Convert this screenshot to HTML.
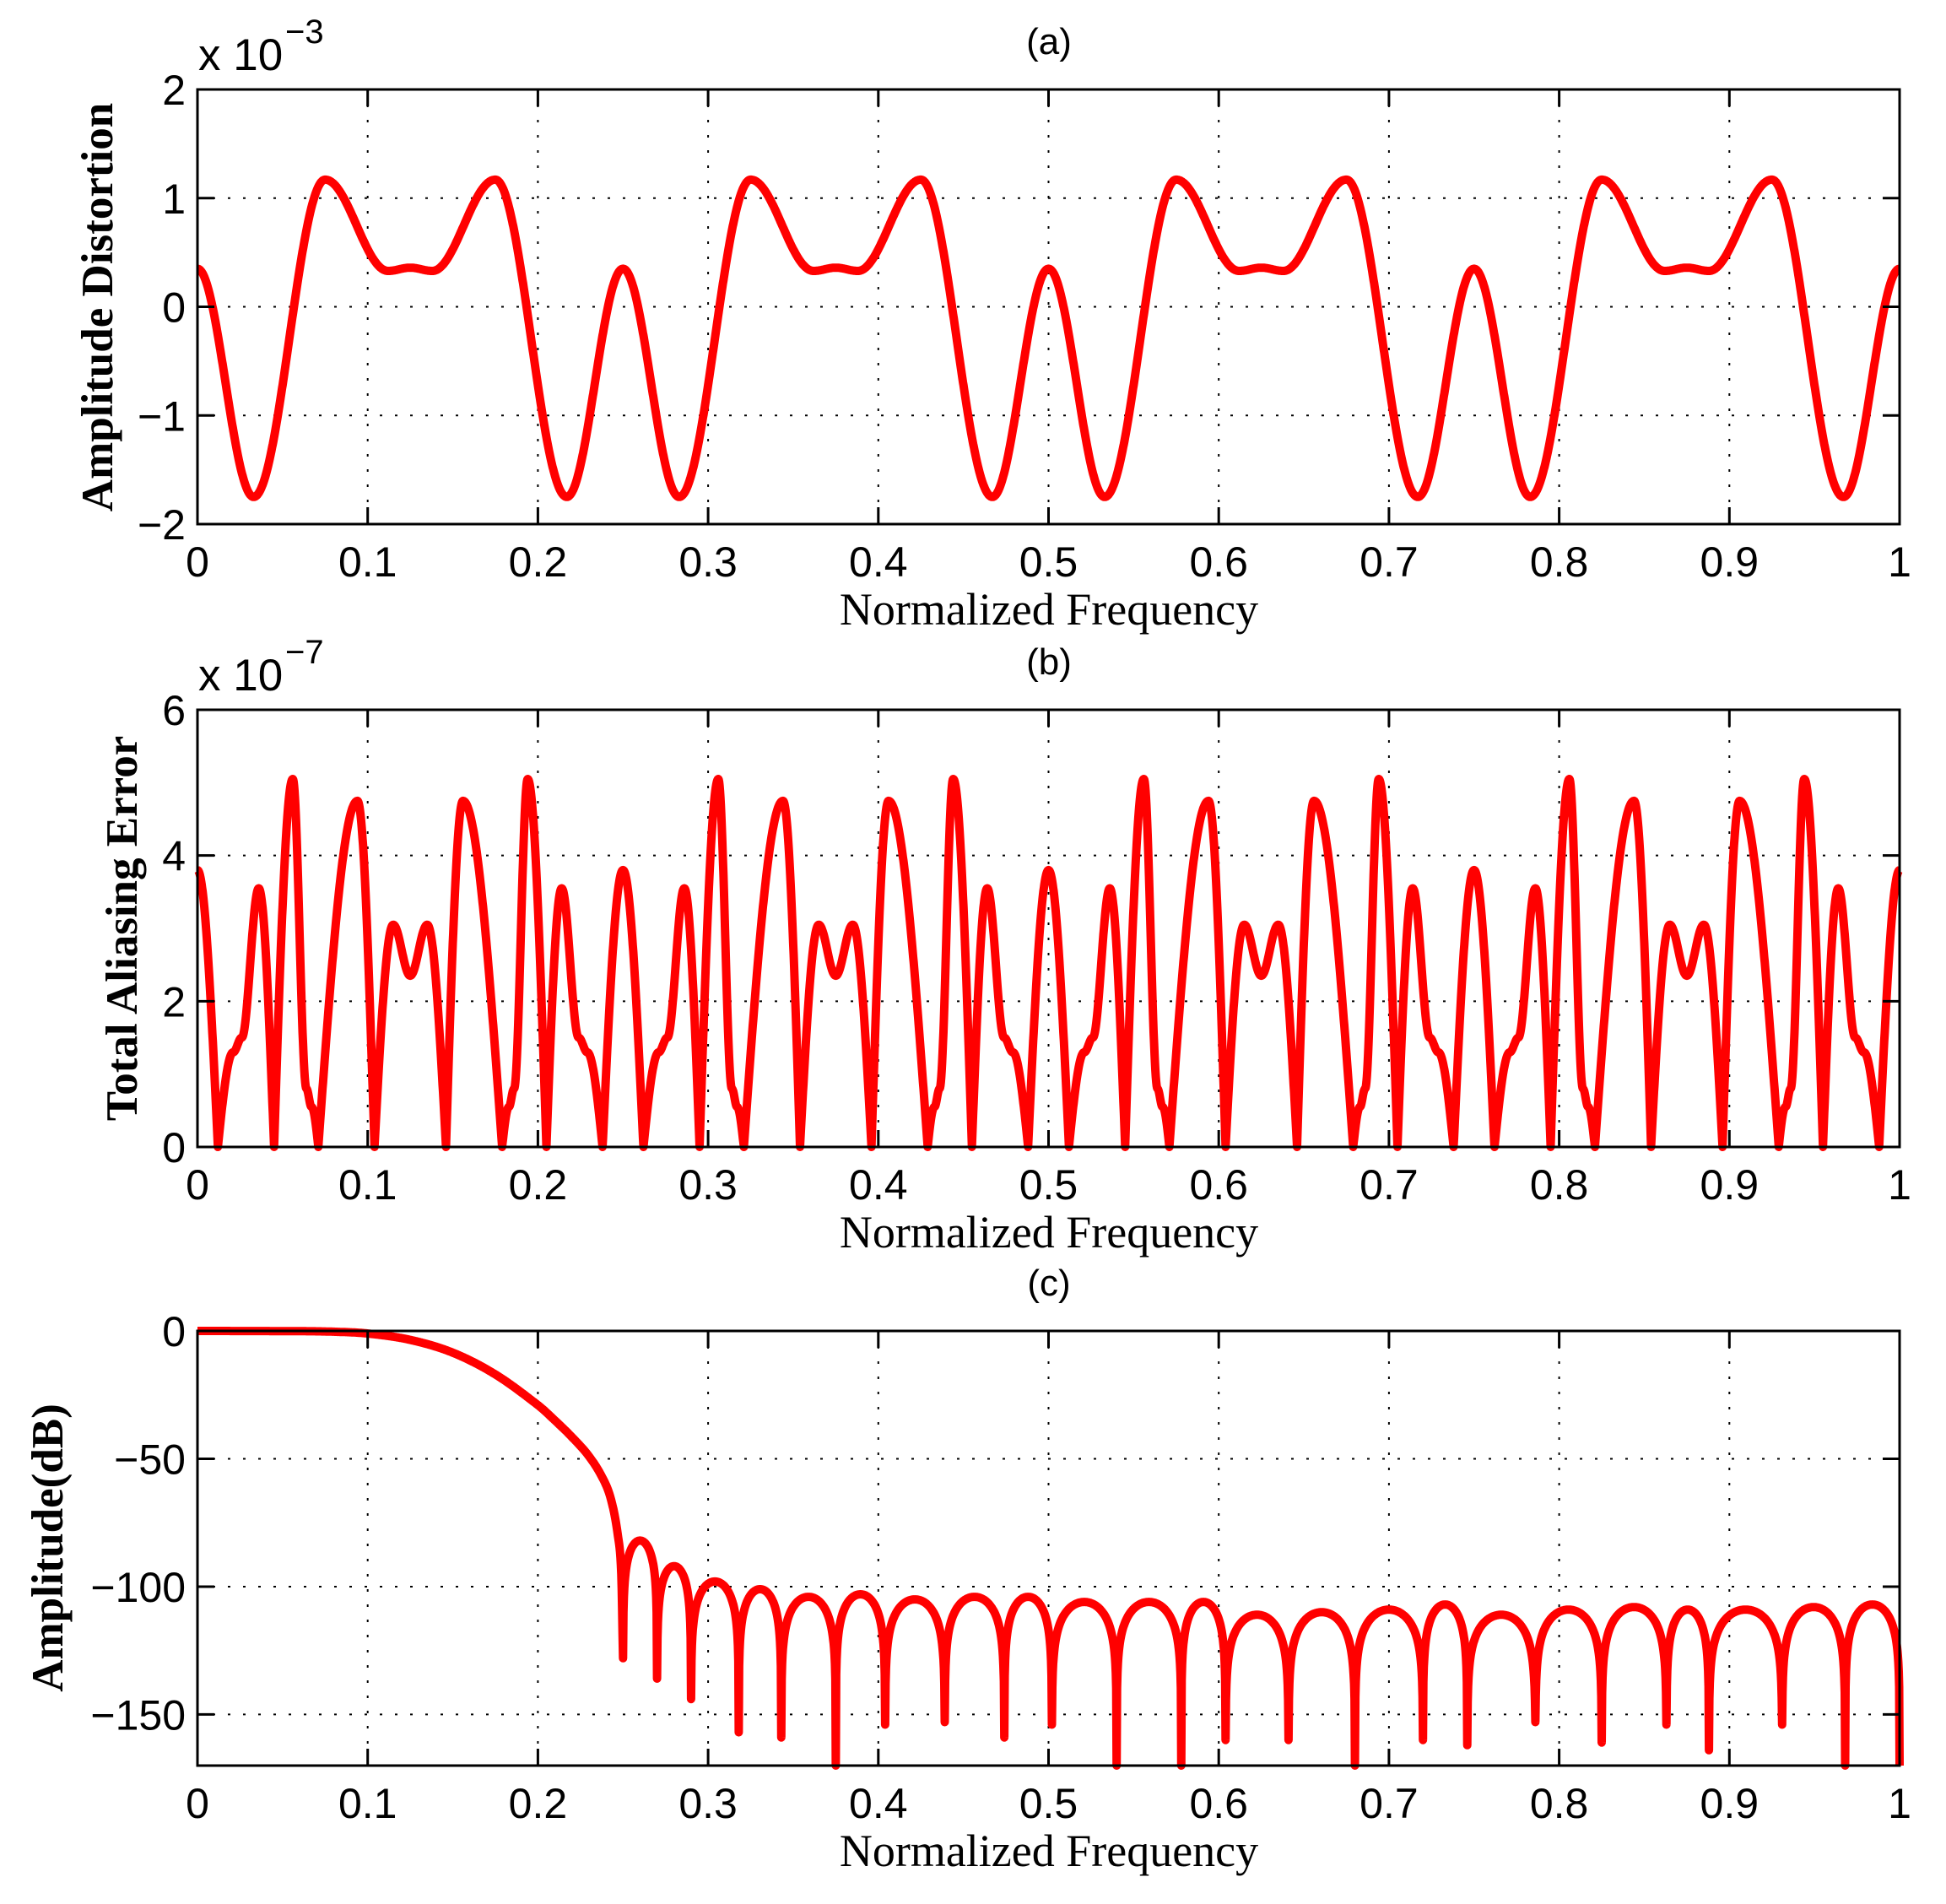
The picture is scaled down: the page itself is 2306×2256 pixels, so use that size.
<!DOCTYPE html>
<html><head><meta charset="utf-8"><style>
html,body{margin:0;padding:0;background:#fff;}
svg text{font-family:"Liberation Sans",Arial,sans-serif;fill:#000;}
</style></head><body>
<svg id="s" width="2306" height="2251" xmlns="http://www.w3.org/2000/svg"></svg>
<script>
const S=document.getElementById('s');
const L=234,R=2251,W=R-L;
let out='';
function X(f){return L+f*W;}
function axes(T,B,ymin,ymax,yt){
  const Y=v=>B-(v-ymin)/(ymax-ymin)*(B-T);
  for(let i=1;i<10;i++){const x=X(i/10);out+=`<line x1="${x}" y1="${T}" x2="${x}" y2="${B}" stroke="#000" stroke-width="2" stroke-dasharray="3,15"/>`;}
  yt.forEach(v=>{const y=Y(v);if(y>T+2&&y<B-2)out+=`<line x1="${L}" y1="${y}" x2="${R}" y2="${y}" stroke="#000" stroke-width="2" stroke-dasharray="3,15"/>`;});
  return Y;
}
function frame(T,B,Y,yt,ytl){
  out+=`<rect x="${L}" y="${T}" width="${W}" height="${B-T}" fill="none" stroke="#000" stroke-width="3"/>`;
  for(let i=0;i<=10;i++){const x=X(i/10);
    out+=`<line x1="${x}" y1="${B}" x2="${x}" y2="${B-20}" stroke="#000" stroke-width="3"/><line x1="${x}" y1="${T}" x2="${x}" y2="${T+20}" stroke="#000" stroke-width="3"/>`;
    const lab=i==0?'0':(i==10?'1':'0.'+i);
    out+=`<text x="${x}" y="${B+62}" font-size="50" text-anchor="middle">${lab}</text>`;}
  yt.forEach((v,k)=>{const y=Y(v);
    out+=`<line x1="${L}" y1="${y}" x2="${L+20}" y2="${y}" stroke="#000" stroke-width="3"/><line x1="${R}" y1="${y}" x2="${R-20}" y2="${y}" stroke="#000" stroke-width="3"/>`;
    out+=`<text x="${L-14}" y="${y+18}" font-size="50" text-anchor="end">${ytl[k]}</text>`;});
  out+=`<text x="1243" y="${B+119}" font-size="54" text-anchor="middle" style="font-family:'Liberation Serif',serif">Normalized Frequency</text>`;
}
function path(fn,Y,T,B){
  let d='';const N=4000;
  for(let i=0;i<=N;i++){const f=i/N;let y=Y(fn(f));y=Math.max(T,Math.min(B,y));d+=(i?'L':'M')+X(f).toFixed(1)+','+y.toFixed(1);}
  out+=`<path d="${d}" fill="none" stroke="#f00" stroke-width="10" stroke-linejoin="round"/>`;
}
function interp(kp,x){
  for(let i=0;i<kp.length-1;i++){const a=kp[i],b=kp[i+1];
    if(x>=a[0]&&x<=b[0]){const t=(x-a[0])/(b[0]-a[0]);
      if(a[2]=='z')return b[1]*Math.sin(Math.PI/2*t);
      if(b[2]=='z')return a[1]*Math.sin(Math.PI/2*(1-t));
      return a[1]+(b[1]-a[1])*(1-Math.cos(Math.PI*t))/2;}}
  return kp[kp.length-1][1];
}
const ka=[[0,0.35],[0.033,-1.75],[0.075,1.17],[0.112,0.33],[0.125,0.36]];
function fa(f){let x=f%0.25;if(x>0.125)x=0.25-x;return interp(ka,x);}
const kb=[[0,3.8],[0.012,0,'z'],[0.021,1.3],[0.026,1.5],[0.036,3.55],[0.045,0,'z'],[0.056,5.05],[0.064,0.8],[0.067,0.55],[0.071,0,'z'],[0.094,4.75],[0.104,0,'z'],[0.115,3.05],[0.125,2.35]];
function fb(f){let x=f%0.25;if(x>0.125)x=0.25-x;return interp(kb,x);}
const pb=[[-0.05,0],[0,0],[0.06,-0.1],[0.08,-0.3],[0.1,-1],[0.125,-3.5],[0.15,-8.5],[0.175,-17],[0.2,-29],[0.21,-35],[0.22,-41.5],[0.23,-49],[0.238,-57.5],[0.243,-66],[0.247,-80],[0.249,-95],[0.25,-128],[0.251,-170]];
function cr(kp,x){
  for(let i=1;i<kp.length-2;i++){const p0=kp[i-1],p1=kp[i],p2=kp[i+1],p3=kp[i+2];
    if(x>=p1[0]&&x<=p2[0]){const h=p2[0]-p1[0],t=(x-p1[0])/h;
      const m1=(p2[1]-p0[1])/(p2[0]-p0[0])*h, m2=(p3[1]-p1[1])/(p3[0]-p1[0])*h;
      const t2=t*t,t3=t2*t;
      return (2*t3-3*t2+1)*p1[1]+(t3-2*t2+t)*m1+(-2*t3+3*t2)*p2[1]+(t3-t2)*m2;}}
  return 0;}
const notches=[[0.25,-128],[0.27,-136],[0.29,-144],[0.318,-157],[0.343,-159],[0.375,-175],[0.404,-154],[0.439,-153],[0.474,-159],[0.502,-154],[0.54,-180],[0.578,-180],[0.604,-160],[0.641,-160],[0.68,-180],[0.72,-160],[0.746,-162],[0.786,-153],[0.825,-161],[0.863,-154],[0.888,-164],[0.931,-154],[0.968,-180],[1.0,-180]];
const peaks=[-82,-92,-98,-101,-104,-103,-105,-104,-104,-106,-106,-106,-111,-110,-109,-107,-111,-109,-108,-109,-109,-108,-107];
function fc(f){
  if(f<0.25)return cr(pb,f);
  for(let i=0;i<notches.length-1;i++){const a=notches[i],b=notches[i+1];
    if(f>=a[0]&&f<=b[0]){const t=(f-a[0])/(b[0]-a[0]);const P=peaks[i];const D=t<0.5?a[1]:b[1];
      const e=Math.pow(10,(D-P)/10);const s=Math.sin(Math.PI*t);return P+10*Math.log10(s*s*(1-e)+e);}}
  return -170;
}
let T=106,B=621;
let Y=axes(T,B,-2,2,[2,1,0,-1,-2]);path(fa,Y,T,B);frame(T,B,Y,[2,1,0,-1,-2],['2','1','0','\u22121','\u22122']);
out+=`<text x="1243" y="${T-42}" font-size="44" text-anchor="middle">(a)</text>`;
out+=`<text x="235" y="${T-23}" font-size="53">x 10</text><text x="338" y="${T-55}" font-size="40">\u22123</text>`;
out+=`<text transform="translate(133,364) rotate(-90)" font-size="53" font-weight="bold" text-anchor="middle" style="font-family:'Liberation Serif',serif">Amplitude Distortion</text>`;
T=841;B=1359;
Y=axes(T,B,0,6,[6,4,2,0]);path(fb,Y,T,B);frame(T,B,Y,[6,4,2,0],['6','4','2','0']);
out+=`<text x="1243" y="${T-42}" font-size="44" text-anchor="middle">(b)</text>`;
out+=`<text x="235" y="${T-23}" font-size="53">x 10</text><text x="338" y="${T-55}" font-size="40">\u22127</text>`;
out+=`<text transform="translate(162,1100) rotate(-90)" font-size="53" font-weight="bold" text-anchor="middle" style="font-family:'Liberation Serif',serif">Total Aliasing Error</text>`;
T=1577;B=2092;
Y=axes(T,B,-170,0,[0,-50,-100,-150]);path(fc,Y,T,B);frame(T,B,Y,[0,-50,-100,-150],['0','\u221250','\u2212100','\u2212150']);
out+=`<text x="1243" y="${T-42}" font-size="44" text-anchor="middle">(c)</text>`;
out+=`<text transform="translate(74,1834) rotate(-90)" font-size="53" font-weight="bold" text-anchor="middle" style="font-family:'Liberation Serif',serif">Amplitude(dB)</text>`;
S.innerHTML=out;
</script>
</body></html>
